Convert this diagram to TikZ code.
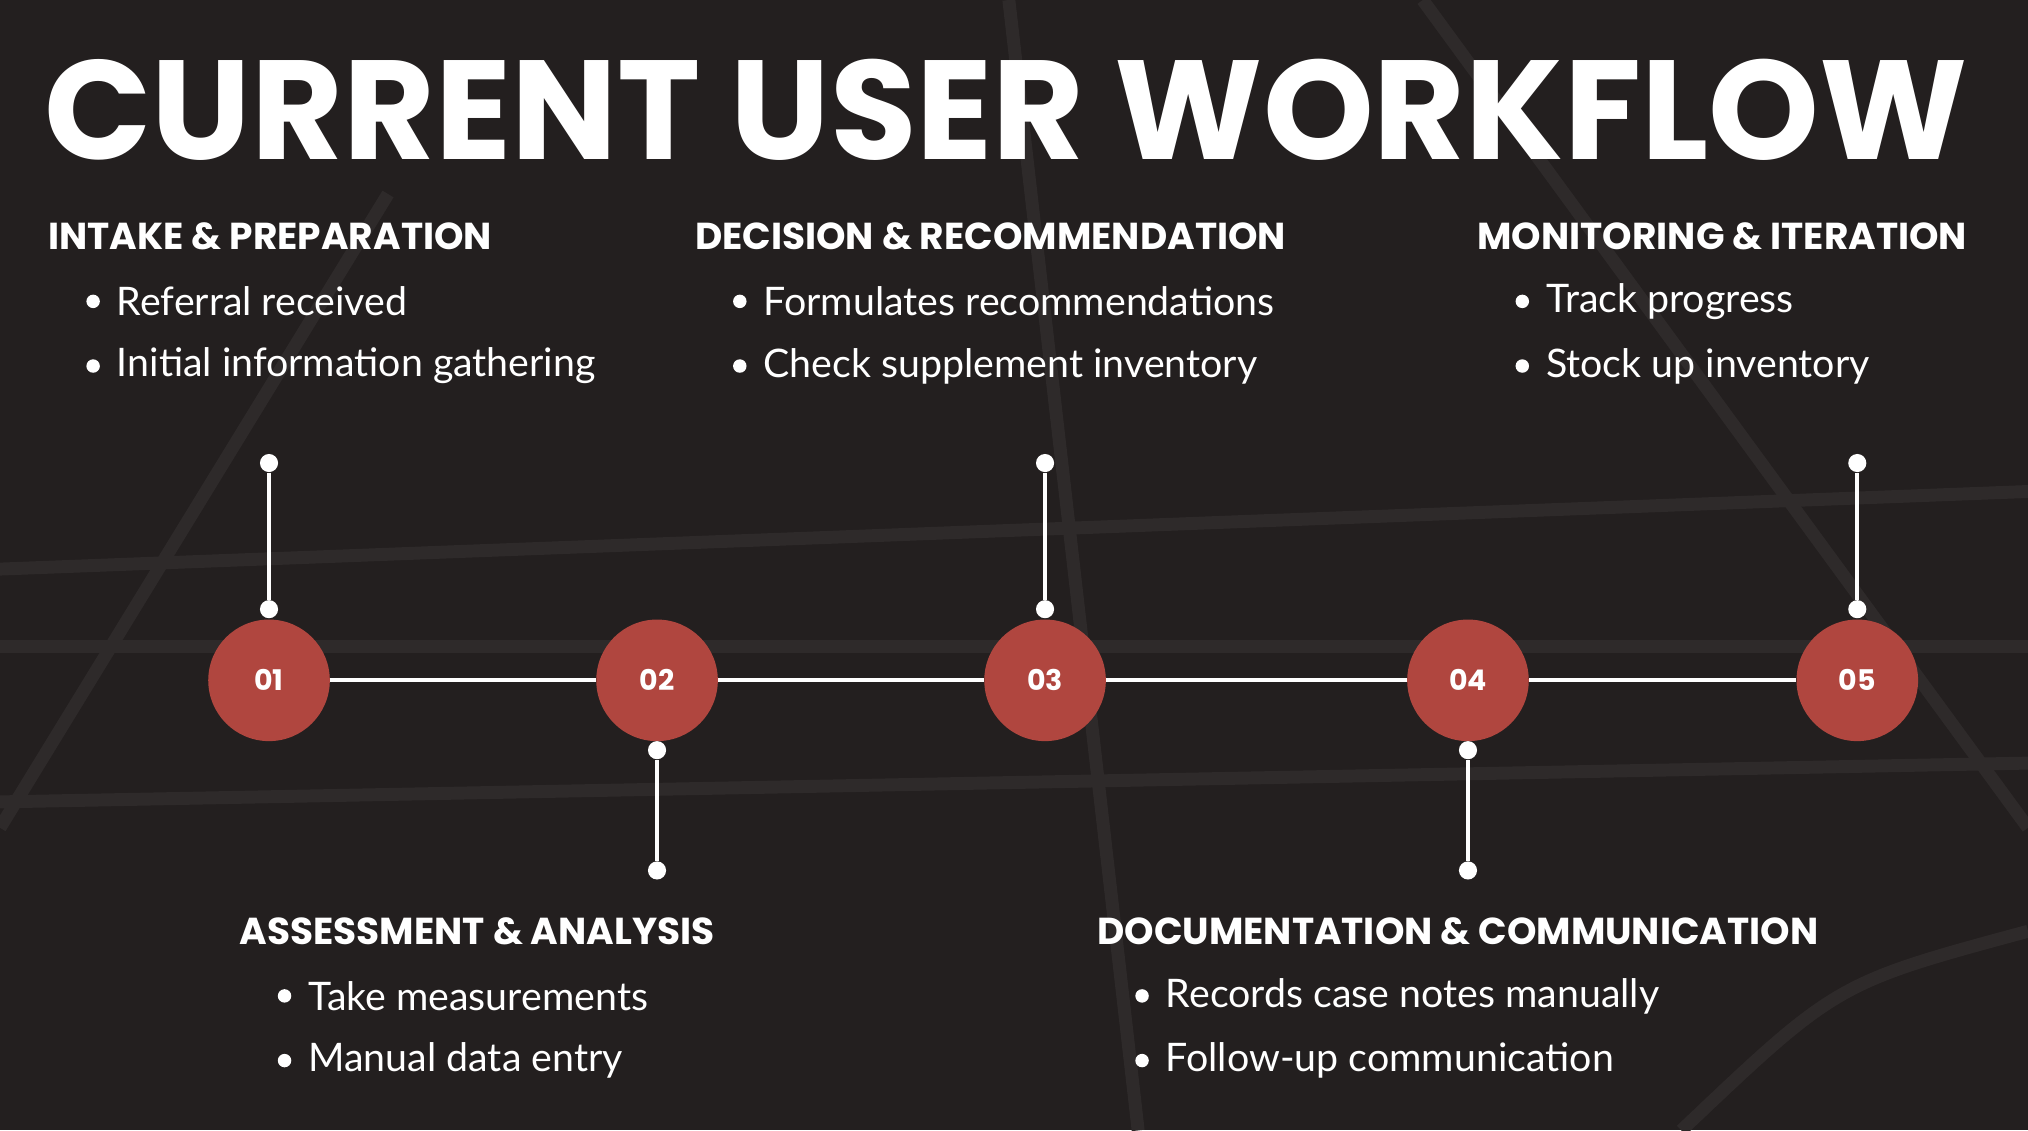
\documentclass[tikz,border=0pt]{standalone}
\usepackage{fontspec}
\setmainfont{Poppins}
\newfontfamily\bodyfont{Lato}
\usetikzlibrary{positioning}
\definecolor{bgdark}{HTML}{231F1F}
\definecolor{trackline}{HTML}{2E2A2A}
\definecolor{stepred}{HTML}{B0463F}
\tikzset{
  stepdisc/.style={circle,fill=stepred,minimum size=47pt,inner sep=0pt,text=white,font=\bfseries\fontsize{11}{11}\selectfont},
  stemdot/.style={circle,fill=white,minimum size=7pt,inner sep=0pt},
  wline/.style={white,line width=1.6pt},
  headtext/.style={anchor=west,text=white,inner sep=0pt,font=\bfseries\fontsize{14.5}{14.5}\selectfont},
  itemtext/.style={anchor=west,text=white,inner sep=0pt,font=\bodyfont\fontsize{15.2}{15.2}\selectfont},
}
\newcommand{\stepitems}[4]{% heading node name, x, text1, text2
  \node[itemtext] at (#2+53,233) {#3};
  \fill[white] (#2+35,233) circle (2.6pt);
  \node[itemtext] at (#2+53,283) {#4};
  \fill[white] (#2+35,283) circle (2.6pt);
}
\begin{document}
\begin{tikzpicture}[x=0.5pt,y=-0.5pt]
\useasboundingbox (0,0) rectangle (1568,874);
\fill[bgdark] (0,0) rectangle (1568,874);
% faint track markings
\begin{scope}
\clip (0,0) rectangle (1568,874);
\begin{scope}[trackline,line width=5pt]
  \draw (0,440) -- (1568,380);
  \draw (0,620) -- (1568,590);
  \draw (0,500) -- (1568,500);
  \draw (300,150) -- (0,640);
  \draw (780,0) -- (880,874);
  \draw (1100,0) -- (1568,640);
  \draw (1300,874) .. controls (1420,760) .. (1568,720);
\end{scope}
\end{scope}
\node[anchor=west,text=white,inner sep=0pt,font=\bfseries\fontsize{54.5}{54.5}\selectfont] (title) at (34,85) {CURRENT USER WORKFLOW};
% timeline
\foreach \n/\x in {01/208,02/508,03/808,04/1135,05/1436}
  \node[stepdisc] (s\n) at (\x,526) {\n};
\draw[wline] (s01) -- (s02) -- (s03) -- (s04) -- (s05);
% stems
\foreach \n/\x in {01/208,03/808,05/1436}{
  \node[stemdot] (t\n) at (\x,358) {};
  \node[stemdot] (b\n) at (\x,471) {};
  \draw[wline] (t\n) -- (b\n);
}
\foreach \n/\x in {02/508,04/1135}{
  \node[stemdot] (t\n) at (\x,580) {};
  \node[stemdot] (b\n) at (\x,673) {};
  \draw[wline] (t\n) -- (b\n);
}
% texts
\node[headtext] (h01) at (37,183) {INTAKE \& PREPARATION};
\node[headtext] (h03) at (537,183) {DECISION \& RECOMMENDATION};
\node[headtext] (h05) at (1142,183) {MONITORING \& ITERATION};
\stepitems{h01}{37}{Referral received}{Initial information gathering}
\stepitems{h03}{537}{Formulates recommendations}{Check supplement inventory}
\stepitems{h05}{1142}{Track progress}{Stock up inventory}
\begin{scope}[yshift=-268.5pt]
\node[headtext] (h02) at (185,183) {ASSESSMENT \& ANALYSIS};
\node[headtext] (h04) at (848,183) {DOCUMENTATION \& COMMUNICATION};
\stepitems{h02}{185}{Take measurements}{Manual data entry}
\stepitems{h04}{848}{Records case notes manually}{Follow-up communication}
\end{scope}
\end{tikzpicture}
\end{document}
